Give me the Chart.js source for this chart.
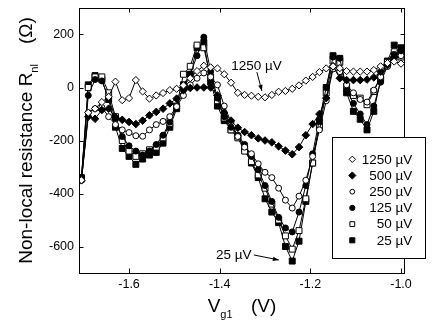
<!DOCTYPE html>
<html><head><meta charset="utf-8">
<script src="https://cdn.jsdelivr.net/npm/chart.js@4/dist/chart.umd.min.js"></script>
<style>html,body{margin:0;padding:0;background:#fff;}#wrap{width:436px;height:325px;}</style>
</head><body><div id="wrap"><canvas id="c" width="436" height="325"></canvas></div>
<script>
// ---- data ----
const gateVoltage = [-1.705,-1.690,-1.675,-1.660,-1.645,-1.630,-1.615,-1.600,-1.585,-1.570,-1.555,-1.540,-1.525,-1.510,-1.495,-1.480,-1.465,-1.450,-1.435,-1.420,-1.405,-1.390,-1.375,-1.360,-1.345,-1.330,-1.315,-1.300,-1.285,-1.270,-1.255,-1.240,-1.225,-1.210,-1.195,-1.180,-1.165,-1.150,-1.135,-1.120,-1.105,-1.090,-1.075,-1.060,-1.045,-1.030,-1.015,-1.000];
const r1250 = [-350,-95,-80,-55,-35,22,-48,-40,28,-15,-42,-30,-21,-10,-5,8,35,62,82,76,72,50,18,-20,-28,-31,-35,-37,-28,-16,-13,-5,8,26,40,58,72,80,73,62,60,60,60,66,80,92,98,90];
const r500 = [-350,-110,-118,-85,-80,-112,-122,-130,-138,-125,-105,-92,-80,-60,-42,-10,-2,0,0,0,-30,-95,-125,-152,-168,-180,-192,-200,-207,-222,-238,-252,-225,-180,-138,-100,-40,80,35,28,28,28,30,38,60,85,115,140];
const r250 = [-350,-95,-80,-75,-110,-140,-160,-170,-182,-184,-160,-140,-128,-110,-72,-30,10,35,55,40,10,-70,-130,-185,-225,-250,-288,-320,-340,-380,-425,-455,-410,-350,-260,-160,-50,70,60,10,-20,-45,-55,-10,40,80,110,120];
const r125 = [-340,-30,30,25,-40,-120,-185,-220,-240,-255,-240,-215,-180,-130,-70,0,50,120,190,60,-40,-110,-150,-180,-215,-260,-310,-370,-430,-490,-530,-545,-470,-370,-250,-120,0,115,110,-10,-60,-100,-140,-70,20,80,125,135];
const r50 = [-340,0,40,40,-20,-110,-200,-240,-260,-250,-235,-225,-190,-135,-70,50,80,160,150,40,-50,-115,-160,-190,-240,-280,-330,-380,-440,-500,-560,-610,-540,-420,-285,-150,-20,100,95,5,-30,-40,-65,-15,40,95,135,115];
const r25 = [-345,10,45,30,-45,-150,-230,-260,-290,-270,-255,-245,-210,-150,-80,10,50,150,170,20,-70,-125,-160,-185,-230,-285,-340,-420,-470,-510,-600,-655,-580,-430,-285,-130,0,120,110,-20,-90,-120,-160,-90,30,100,160,150];
const seriesLabels = ["1250 µV","500 µV","250 µV","125 µV","50 µV","25 µV"];
const seriesValues = [r1250, r500, r250, r125, r50, r25];
const xTicks = [-1.6,-1.4,-1.2,-1.0];
const xTickLabels = ["-1.6","-1.4","-1.2","-1.0"];
const yTicks = [-600,-400,-200,0,200];
const yTickLabels = ["-600","-400","-200","0","200"];

// ---- styles ----
const FONT = "'Liberation Sans', Arial, sans-serif";
const markerStyles = [
  {pointStyle:'rectRot', filled:false, radius:3.6, legendRadius:3.2},
  {pointStyle:'rectRot', filled:true,  radius:3.8, legendRadius:3.6},
  {pointStyle:'circle',  filled:false, radius:3,   legendRadius:2.4},
  {pointStyle:'circle',  filled:true,  radius:3,   legendRadius:2.6},
  {pointStyle:'rect',    filled:false, radius:4.2, legendRadius:3.4},
  {pointStyle:'rect',    filled:true,  radius:4.2, legendRadius:3.6}
];
const annotations = [
  {text:"1250 µV", x:-1.3186, y:66, ax0:-1.318, ay0:58, ax1:-1.3069, ay1:-13},
  {text:"25 µV", x:-1.3689, y:-647, ax0:-1.3246, ay0:-632, ax1:-1.2694, ay1:-651}
];

const datasets = seriesValues.map((vals,i)=>({
  label: seriesLabels[i],
  data: gateVoltage.map((x,j)=>({x:x, y:vals[j]})),
  showLine: true,
  borderColor: '#000',
  borderWidth: 1,
  pointStyle: markerStyles[i].pointStyle,
  pointRadius: markerStyles[i].radius,
  pointBackgroundColor: markerStyles[i].filled ? '#000' : '#fff',
  pointBorderColor: '#000',
  pointBorderWidth: 1
}));

function arrow(ctx, x0, y0, x1, y1) {
  ctx.beginPath(); ctx.moveTo(x0,y0); ctx.lineTo(x1,y1); ctx.stroke();
  const a = Math.atan2(y1-y0, x1-x0), L = 6, W = 2.2;
  ctx.beginPath();
  ctx.moveTo(x1,y1);
  ctx.lineTo(x1 - L*Math.cos(a) + W*Math.sin(a), y1 - L*Math.sin(a) - W*Math.cos(a));
  ctx.lineTo(x1 - L*Math.cos(a) - W*Math.sin(a), y1 - L*Math.sin(a) + W*Math.cos(a));
  ctx.closePath(); ctx.fill();
}

const decor = {
  id: 'decor',
  afterDraw(chart) {
    const ctx = chart.ctx, ca = chart.chartArea, xs = chart.scales.x, ys = chart.scales.y;
    ctx.save();
    ctx.strokeStyle = '#000'; ctx.fillStyle = '#000'; ctx.lineWidth = 1;
    // frame
    ctx.strokeRect(ca.left + 0.5, ca.top + 0.5, ca.right - ca.left - 1, ca.bottom - ca.top);
    // inward ticks on all sides
    const TL = 4.5;
    ctx.beginPath();
    xTicks.forEach(v => {
      const p = Math.round(xs.getPixelForValue(v)) + 0.5;
      ctx.moveTo(p, ca.bottom); ctx.lineTo(p, ca.bottom - TL);
      ctx.moveTo(p, ca.top); ctx.lineTo(p, ca.top + TL);
    });
    yTicks.forEach(v => {
      const p = Math.round(ys.getPixelForValue(v)) + 0.5;
      ctx.moveTo(ca.left, p); ctx.lineTo(ca.left + TL, p);
      ctx.moveTo(ca.right, p); ctx.lineTo(ca.right - TL, p);
    });
    ctx.stroke();
    // annotations
    ctx.font = '13.5px ' + FONT;
    ctx.textAlign = 'center'; ctx.textBaseline = 'alphabetic';
    annotations.forEach(a => {
      ctx.fillText(a.text, xs.getPixelForValue(a.x), ys.getPixelForValue(a.y));
      arrow(ctx, xs.getPixelForValue(a.ax0), ys.getPixelForValue(a.ay0), xs.getPixelForValue(a.ax1), ys.getPixelForValue(a.ay1));
    });
    // x axis title  V_g1   (V)
    const cx = (ca.left + ca.right) / 2;
    ctx.textAlign = 'left';
    ctx.font = '19px ' + FONT;
    const wV = ctx.measureText('V').width;
    const wP = ctx.measureText('(V)').width;
    ctx.font = '11px ' + FONT;
    const wS = ctx.measureText('g1').width;
    const gap = 18.5;
    let tx = cx - (wV + wS + gap + wP) / 2;
    const by = 311.5;
    ctx.font = '19px ' + FONT; ctx.fillText('V', tx, by);
    ctx.font = '11px ' + FONT; ctx.fillText('g1', tx + wV, by + 6);
    ctx.font = '19px ' + FONT; ctx.fillText('(V)', tx + wV + wS + gap, by);
    // y axis title
    ctx.save();
    ctx.translate(32, (ca.top + ca.bottom) / 2);
    ctx.rotate(-Math.PI / 2);
    ctx.font = '19px ' + FONT;
    const m1 = 'Non-local resistance R';
    const w1 = ctx.measureText(m1).width;
    const w3 = ctx.measureText('(Ω)').width;
    ctx.font = '11px ' + FONT;
    const w2 = ctx.measureText('nl').width;
    const gy = 20;
    let ty = -(w1 + w2 + gy + w3) / 2;
    ctx.font = '19px ' + FONT; ctx.fillText(m1, ty, 0);
    ctx.font = '11px ' + FONT; ctx.fillText('nl', ty + w1, 6);
    ctx.font = '19px ' + FONT; ctx.fillText('(Ω)', ty + w1 + w2 + gy, 0);
    ctx.restore();
    // legend box
    const bx = 332.5, bY = 137.5, bw = 93, bh = 121;
    ctx.fillStyle = '#fff'; ctx.fillRect(bx, bY, bw, bh);
    ctx.strokeStyle = '#000'; ctx.strokeRect(bx, bY, bw, bh);
    ctx.font = '13.5px ' + FONT; ctx.textAlign = 'right'; ctx.textBaseline = 'middle';
    seriesLabels.forEach((lab, i) => {
      const yy = 159.3 + i * 16.2;
      const ms = markerStyles[i];
      ctx.fillStyle = ms.filled ? '#000' : '#fff';
      ctx.strokeStyle = '#000'; ctx.lineWidth = 1;
      Chart.helpers.drawPoint(ctx, {pointStyle: ms.pointStyle, radius: ms.legendRadius, rotation: 0, borderWidth: 1}, 352.3, yy);
      ctx.fillStyle = '#000';
      ctx.fillText(lab, 412.3, yy + 0.5);
    });
    ctx.restore();
  }
};

function zeroPad(s) { s.paddingTop = 0; s.paddingBottom = 0; s.paddingLeft = 0; s.paddingRight = 0; }

new Chart(document.getElementById('c'), {
  type: 'scatter',
  data: { datasets: datasets },
  options: {
    responsive: false,
    animation: false,
    devicePixelRatio: 1,
    layout: { padding: { left: 0, top: 8, right: 31, bottom: 0 } },
    plugins: { legend: { display: false }, tooltip: { enabled: false } },
    scales: {
      x: {
        type: 'linear', min: -1.7104, max: -0.9912,
        afterBuildTicks: s => { s.ticks = xTicks.map(v => ({ value: v })); },
        afterFit: s => { s.height = 52; zeroPad(s); },
        grid: { display: false, drawTicks: false },
        border: { display: false },
        ticks: {
          color: '#000', padding: 4, maxRotation: 0, autoSkip: false,
          font: { family: FONT, size: 12.5 },
          callback: (v) => { const k = xTicks.findIndex(t => Math.abs(t - v) < 1e-6); return k >= 0 ? xTickLabels[k] : ''; }
        }
      },
      y: {
        type: 'linear', min: -700, max: 300,
        afterBuildTicks: s => { s.ticks = yTicks.map(v => ({ value: v })); },
        afterFit: s => { s.width = 79; zeroPad(s); },
        grid: { display: false, drawTicks: false },
        border: { display: false },
        ticks: {
          color: '#000', padding: 5, autoSkip: false,
          font: { family: FONT, size: 12.5 },
          callback: (v) => { const k = yTicks.indexOf(v); return k >= 0 ? yTickLabels[k] : ''; }
        }
      }
    }
  },
  plugins: [decor]
});
</script>
</body></html>
